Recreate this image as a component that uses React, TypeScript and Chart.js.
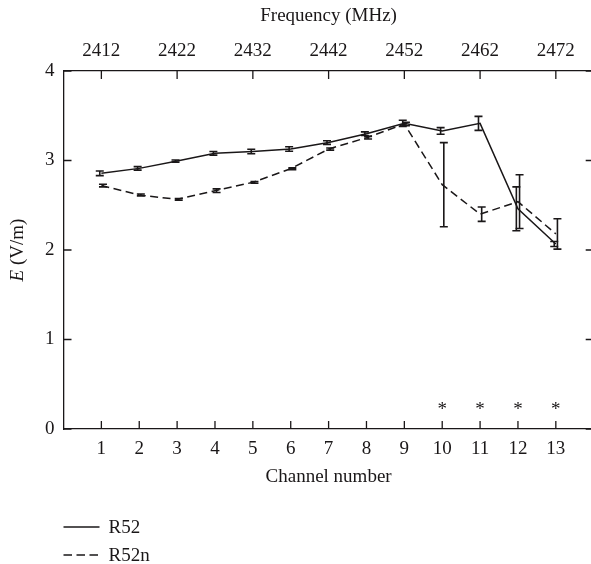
import { useEffect, useRef } from 'react';
import { Chart, registerables } from 'chart.js';

Chart.register(...registerables);

const channels = [1, 2, 3, 4, 5, 6, 7, 8, 9, 10, 11, 12, 13];
const r52 = [2.857, 2.912, 2.994, 3.08, 3.1, 3.128, 3.2, 3.3, 3.415, 3.33, 3.415, 2.46, 2.067];
const r52Err = [0.026, 0.02, 0.012, 0.02, 0.025, 0.025, 0.02, 0.02, 0.034, 0.037, 0.078, 0.245, 0.028];
const r52n = [2.72, 2.615, 2.566, 2.663, 2.756, 2.908, 3.128, 3.255, 3.408, 2.73, 2.4, 2.54, 2.18];
const r52nErr = [0.015, 0.01, 0.01, 0.02, 0.01, 0.01, 0.012, 0.015, 0.02, 0.47, 0.08, 0.3, 0.17];
const freqTicks = [2412, 2422, 2432, 2442, 2452, 2462, 2472];
const yTicks = [0, 1, 2, 3, 4];
const significantChannels = [10, 11, 12, 13];
const significantLevel = 0.25;

const FONT = '"Liberation Serif", "DejaVu Serif", serif';
const INK = '#1a1718';
const FS = 19;

export default function App() {
  const ref = useRef<HTMLCanvasElement | null>(null);

  useEffect(() => {
    const canvas = ref.current;
    if (!canvas) return;

    const errors = [
      { err: r52Err, vals: r52, dx: -1.6 },
      { err: r52nErr, vals: r52n, dx: 1.6 },
    ];

    const decor = {
      id: 'decor',
      afterDatasetsDraw(chart: any) {
        const ctx = chart.ctx;
        const x = chart.scales.x;
        const x2 = chart.scales.x2;
        const y = chart.scales.y;
        const ca = chart.chartArea;
        ctx.save();
        ctx.strokeStyle = INK;
        ctx.lineWidth = 1.3;
        ctx.setLineDash([]);
        // inward ticks
        const TL = 8;
        ctx.beginPath();
        for (const v of yTicks) {
          const py = y.getPixelForValue(v);
          ctx.moveTo(ca.left, py);
          ctx.lineTo(ca.left + TL, py);
          ctx.moveTo(ca.right, py);
          ctx.lineTo(ca.right - TL, py);
        }
        for (const c of channels) {
          const px = x.getPixelForValue(c);
          ctx.moveTo(px, ca.bottom);
          ctx.lineTo(px, ca.bottom - TL);
        }
        for (const f of freqTicks) {
          const px = x2.getPixelForValue(f);
          ctx.moveTo(px, ca.top);
          ctx.lineTo(px, ca.top + TL);
        }
        ctx.stroke();

        // error bars
        ctx.lineWidth = 1.6;
        for (const e of errors) {
          channels.forEach((c, i) => {
            const px = x.getPixelForValue(c) + e.dx;
            const lo = y.getPixelForValue(e.vals[i] - e.err[i]);
            const hi = y.getPixelForValue(e.vals[i] + e.err[i]);
            ctx.beginPath();
            ctx.moveTo(px, lo);
            ctx.lineTo(px, hi);
            ctx.moveTo(px - 4, lo);
            ctx.lineTo(px + 4, lo);
            ctx.moveTo(px - 4, hi);
            ctx.lineTo(px + 4, hi);
            ctx.stroke();
          });
        }

        // asterisks
        ctx.fillStyle = INK;
        ctx.font = `${FS}px ${FONT}`;
        ctx.textAlign = 'center';
        ctx.textBaseline = 'middle';
        for (const c of significantChannels) {
          ctx.fillText('*', x.getPixelForValue(c), y.getPixelForValue(significantLevel) + 3);
        }

        // y axis title
        ctx.save();
        ctx.translate(18, (ca.top + ca.bottom) / 2);
        ctx.rotate(-Math.PI / 2);
        ctx.textBaseline = 'middle';
        ctx.textAlign = 'left';
        const italic = `italic ${FS}px ${FONT}`;
        const normal = `${FS}px ${FONT}`;
        ctx.font = italic;
        const wE = ctx.measureText('E').width;
        ctx.font = normal;
        const rest = ' (V/m)';
        const wR = ctx.measureText(rest).width;
        const start = -(wE + wR) / 2;
        ctx.font = italic;
        ctx.fillText('E', start, 0);
        ctx.font = normal;
        ctx.fillText(rest, start + wE, 0);
        ctx.restore();

        // legend
        const h = chart.height;
        const items = chart.data.datasets;
        items.forEach((ds: any, i: number) => {
          const ly = h - 37 + i * 28;
          ctx.beginPath();
          ctx.lineWidth = 1.3;
          ctx.setLineDash(i === 0 ? [] : [8.5, 4.5]);
          ctx.moveTo(ca.left, ly);
          ctx.lineTo(ca.left + 36, ly);
          ctx.stroke();
          ctx.setLineDash([]);
          ctx.font = normal;
          ctx.textAlign = 'left';
          ctx.textBaseline = 'middle';
          ctx.fillText(ds.label, ca.left + 45, ly + 1);
        });
        ctx.restore();
      },
    };

    const tickFont = { family: FONT, size: FS };

    const chart = new Chart(canvas, {
      type: 'line',
      data: {
        datasets: [
          {
            label: 'R52',
            data: channels.map((c, i) => ({ x: c, y: r52[i] })),
            borderColor: INK,
            borderWidth: 1.5,
            pointRadius: 0,
            fill: false,
            tension: 0,
          },
          {
            label: 'R52n',
            data: channels.map((c, i) => ({ x: c, y: r52n[i] })),
            borderColor: INK,
            borderWidth: 1.5,
            borderDash: [8, 4.5],
            pointRadius: 0,
            fill: false,
            tension: 0,
          },
        ],
      },
      options: {
        responsive: false,
        animation: false,
        devicePixelRatio: 1,
        layout: { padding: { left: 0, right: 6.3, top: 0, bottom: 0 } },
        plugins: { legend: { display: false }, tooltip: { enabled: false } },
        scales: {
          x: {
            type: 'linear',
            position: 'bottom',
            min: 0,
            max: 14,
            afterBuildTicks: (s: any) => {
              s.ticks = channels.map((v) => ({ value: v }));
            },
            afterFit: (s: any) => {
              s.height = 135;
            },
            ticks: {
              color: INK,
              font: tickFont,
              padding: 9,
              maxRotation: 0,
              autoSkip: false,
              callback: (v: any) => String(v),
            },
            grid: { display: true, drawOnChartArea: false, drawTicks: false },
            border: { display: true, color: INK, width: 1.3 },
            title: {
              display: true,
              text: 'Channel number',
              color: INK,
              font: tickFont,
              padding: { top: 0, bottom: 76 },
            },
          },
          x2: {
            type: 'linear',
            position: 'top',
            min: 2407,
            max: 2477,
            afterBuildTicks: (s: any) => {
              s.ticks = freqTicks.map((v) => ({ value: v }));
            },
            afterFit: (s: any) => {
              s.height = 71;
            },
            ticks: {
              color: INK,
              font: tickFont,
              padding: 9,
              maxRotation: 0,
              autoSkip: false,
              callback: (v: any) => String(v),
            },
            grid: { display: true, drawOnChartArea: false, drawTicks: false },
            border: { display: true, color: INK, width: 1.3 },
            title: {
              display: true,
              text: 'Frequency (MHz)',
              color: INK,
              font: tickFont,
              padding: { top: 5, bottom: 0 },
            },
          },
          y: {
            type: 'linear',
            position: 'left',
            min: 0,
            max: 4,
            afterBuildTicks: (s: any) => {
              s.ticks = yTicks.map((v) => ({ value: v }));
            },
            afterFit: (s: any) => {
              s.width = 63.5;
            },
            ticks: {
              color: INK,
              font: tickFont,
              padding: 9,
              callback: (v: any) => String(v),
            },
            grid: { display: true, drawOnChartArea: false, drawTicks: false },
            border: { display: true, color: INK, width: 1.3 },
          },
          y2: {
            type: 'linear',
            position: 'right',
            min: 0,
            max: 4,
            display: true,
            afterFit: (s: any) => {
              s.width = 0;
            },
            ticks: { display: false },
            grid: { display: true, drawOnChartArea: false, drawTicks: false },
            border: { display: true, color: INK, width: 1.3 },
          },
        },
      },
      plugins: [decor],
    } as any);

    return () => chart.destroy();
  }, []);

  return (
    <div style={{ position: 'absolute', left: 0, top: 0, width: 591, height: 564, overflow: 'hidden', background: '#fff' }}>
      <canvas ref={ref} width={600} height={564} style={{ display: 'block' }} />
    </div>
  );
}
